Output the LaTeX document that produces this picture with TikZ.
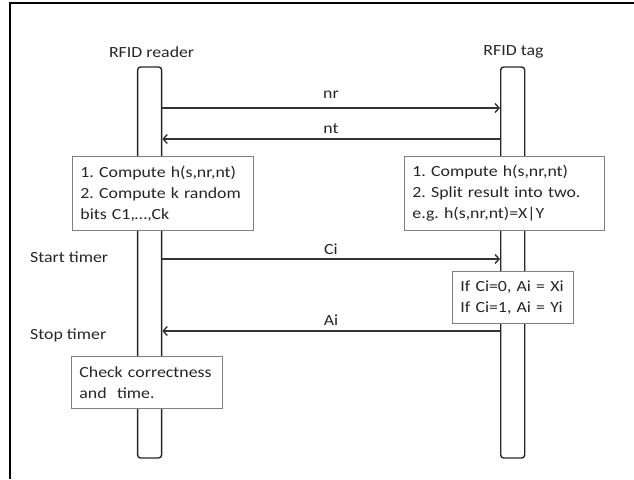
\documentclass[tikz,border=0pt]{standalone}
\usepackage{fontspec}
\setmainfont{Carlito}[FakeStretch=1.15]
\usetikzlibrary{arrows.meta}
\frenchspacing

\begin{document}
\begin{tikzpicture}[x=1pt,y=-1pt,
  every node/.style={font=\fontsize{15.5}{21}\selectfont,text=black!85},
  lifeline/.style={draw=black!85,line width=1.4pt,rounded corners=3pt,minimum width=24pt,minimum height=391pt,inner sep=0pt},
  notebox/.style={draw=black!50,line width=0.9pt,fill=white,anchor=north west,align=left,inner xsep=8pt,inner ysep=0pt},
  msg/.style={draw=black!80,line width=1.6pt,-{Straight Barb[length=4pt,width=9pt,line width=1.4pt]}},
  lbl/.style={inner sep=1pt}]
\useasboundingbox (0,0) rectangle (634,479);
% frame
\draw[line width=2.4pt] (10,479) -- (10,3) -- (634,3);

% lifelines
\node[lifeline] (reader) at (149.6,262.5) {};
\node[lifeline] (tag) at (512.7,262.5) {};
\node[lbl] (readername) at (151.6,52) {RFID reader};
\node[lbl] (tagname) at (513.5,52) {RFID tag};

% nonces
\coordinate (ynr) at (0,108);
\coordinate (ynt) at (0,139);
\draw[msg] (reader.east |- ynr) -- (tag.west |- ynr);
\node[lbl] (nrlbl) at (331,95) {nr};
\draw[msg] (tag.west |- ynt) -- (reader.east |- ynt);
\node[lbl] (ntlbl) at (331,129) {nt};

% computation boxes
\node[notebox,text width=165pt,minimum height=74pt] (readcomp) at (72,156)
  {1. Compute h(s,nr,nt)\\2. Compute k random\\bits C1,…,Ck};
\node[notebox,text width=184pt,minimum height=74pt] (tagcomp) at (404,156)
  {1. Compute h(s,nr,nt)\\2. Split result into two.\\e.g. h(s,nr,nt)=X|Y};

% challenge
\coordinate (yci) at (0,259);
\node[lbl,anchor=west] (start) at (29,257) {Start timer};
\draw[msg] (reader.east |- yci) -- (tag.west |- yci);
\node[lbl] (cilbl) at (331,249) {Ci};
\node[notebox,text width=104.6pt,minimum height=52pt] (answer) at (452,271)
  {If Ci=0, Ai = Xi\\If Ci=1, Ai = Yi};

% response
\coordinate (yai) at (0,331);
\node[lbl,anchor=west] (stop) at (29,335) {Stop timer};
\draw[msg] (tag.west |- yai) -- (reader.east |- yai);
\node[lbl] (ailbl) at (331,320) {Ai};
\node[notebox,text width=135pt,minimum height=52pt] (check) at (71,356)
  {Check correctness\\and~ time.};
\end{tikzpicture}
\end{document}
